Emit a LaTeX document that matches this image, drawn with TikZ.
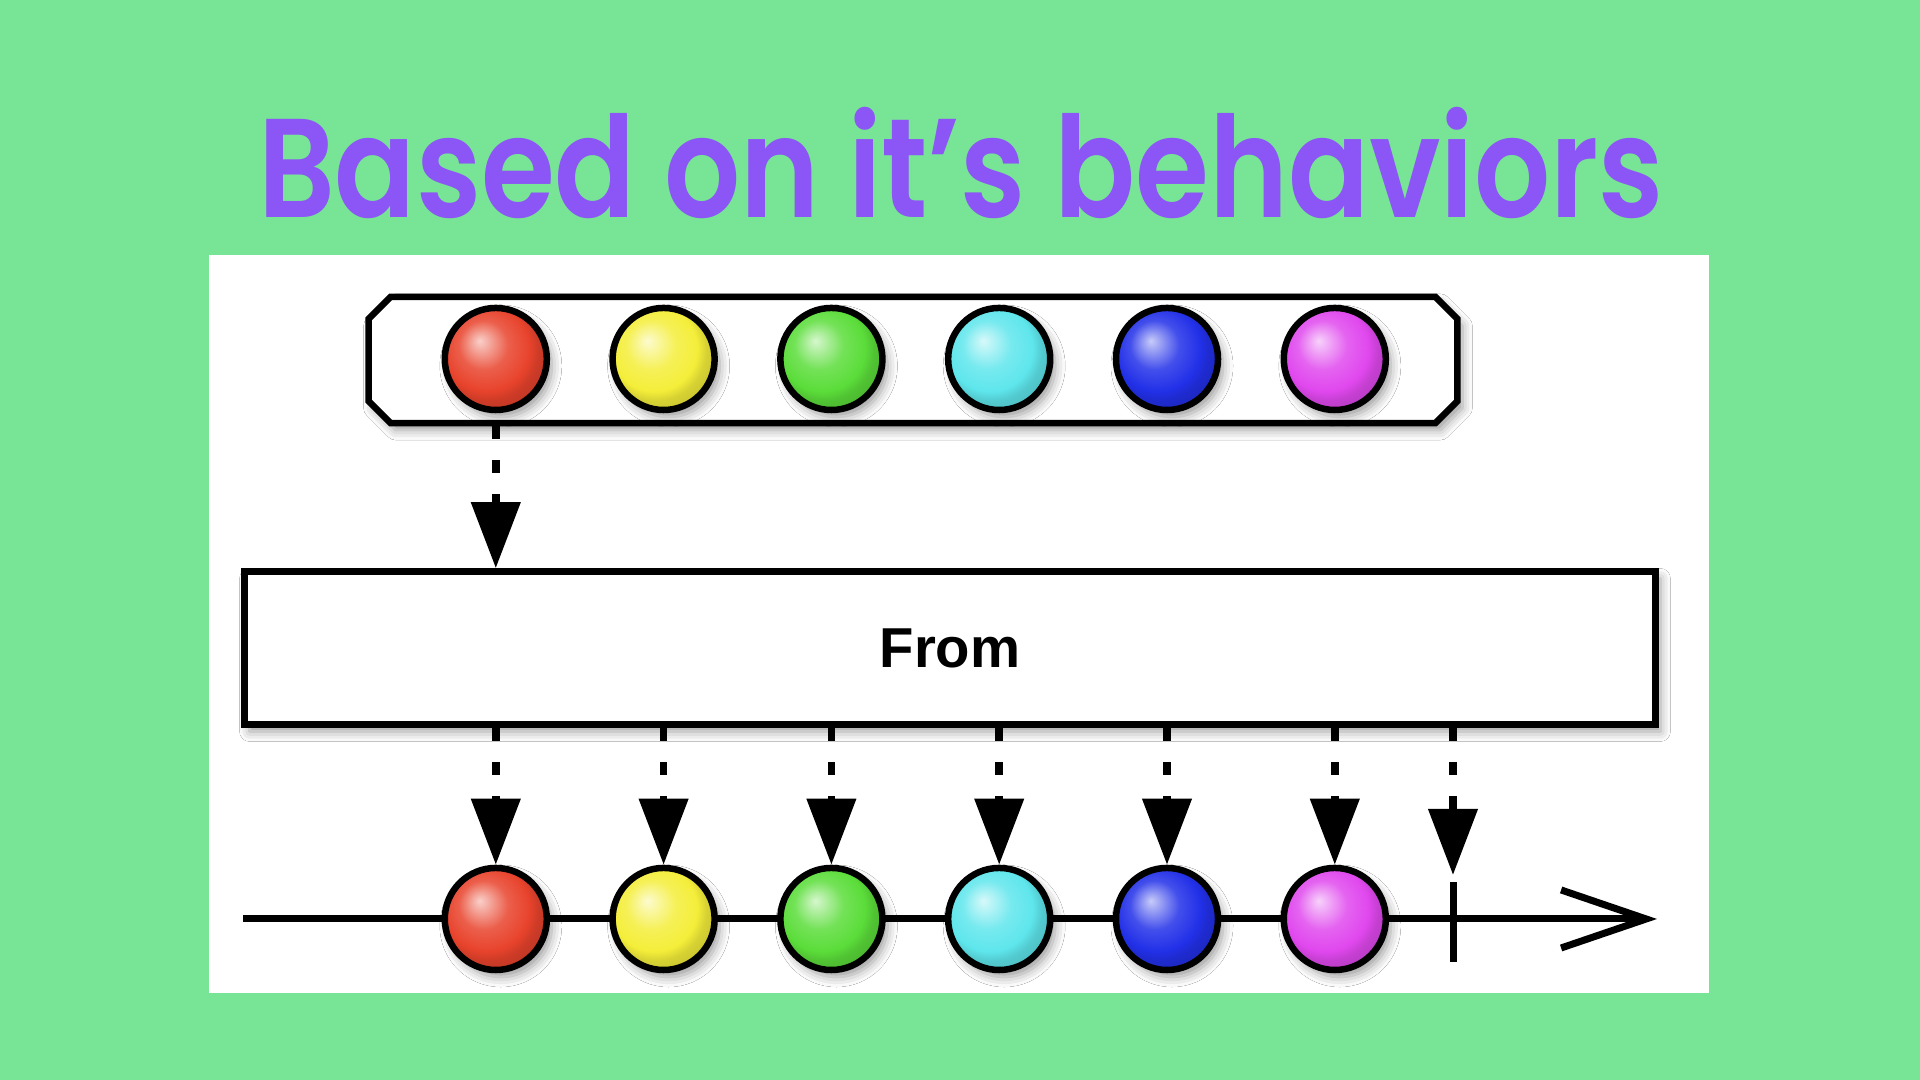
\documentclass[tikz,border=0pt]{standalone}
\usepackage{fontspec}
\usetikzlibrary{arrows.meta,shapes.misc,shadows.blur}
\newfontfamily\titlefont{Poppins}[UprightFont={* SemiBold}, FakeStretch=0.85]
\newfontfamily\opfont{Liberation Sans}
\definecolor{bggreen}{HTML}{77E595}
\definecolor{titlepurple}{HTML}{8C55F5}
\definecolor{ballred}{HTML}{E8432C}
\definecolor{ballyellow}{HTML}{F4EE3A}
\definecolor{ballgreen}{HTML}{5BDD3A}
\definecolor{ballcyan}{HTML}{5EE6EC}
\definecolor{ballblue}{HTML}{2230E8}
\definecolor{ballpink}{HTML}{E048EE}
\colorlet{ballcol}{ballred}
\pgfdeclareradialshading[ballcol]{glossy}{\pgfpoint{-8bp}{9bp}}{color(0bp)=(ballcol!25!white); color(12bp)=(ballcol!85!white); color(21bp)=(ballcol); color(25bp)=(ballcol!88!black); color(50bp)=(ballcol!60!black)}
\tikzset{
  soft/.style={blur shadow={shadow xshift=0.05cm, shadow yshift=-0.07cm, shadow blur radius=0.1cm, shadow opacity=40}},
  sphere/.style={circle, draw=black, line width=0.065cm, minimum size=1.02cm, inner sep=0pt, /utils/exec={\colorlet{ballcol}{#1}}, shading=glossy, soft},
  feed/.style={line width=0.075cm, dash pattern=on 0.13cm off 0.21cm, -{Triangle[length=0.66cm, width=0.48cm]}},
  frame/.style={draw=black, line width=0.065cm, fill=white, soft},
}
\begin{document}
\begin{tikzpicture}[x=0.01cm,y=0.01cm]
\fill[bggreen] (0,0) rectangle (1920,1080);
\fill[white] (209,87) rectangle (1709,825);
\node[anchor=base, text=titlepurple, font=\titlefont\fontsize{40pt}{40pt}\selectfont] (title) at (961,862) {Based on it’s behaviors};
\node[frame, chamfered rectangle, chamfered rectangle xsep=0.18cm, minimum width=10.88cm, minimum height=1.26cm] (src) at (913,720) {};
\node[frame, minimum width=14.1cm, minimum height=1.53cm, font=\opfont\bfseries\fontsize{16pt}{16pt}\selectfont] (op) at (950,432) {From};
\coordinate (start) at (243,161);
\coordinate (finish) at (1657,161);
\coordinate (stop) at (1453,161);
\coordinate (stoptop) at (1453,205);
\draw[line width=0.07cm, -{Straight Barb[length=0.85cm, width=0.58cm]}] (start) -- (finish);
\draw[line width=0.07cm] ([yshift=-0.43cm]stop) -- ([yshift=0.37cm]stop);
\foreach \c [count=\i] in {ballred,ballyellow,ballgreen,ballcyan,ballblue,ballpink} {
  \node[sphere=\c] (t\i) at ({328+167.8*\i},721) {};
  \node[sphere=\c] (b\i) at ({328+167.8*\i},161) {};
  \draw[feed] (op.south -| b\i.north) -- (b\i.north);
}
\draw[feed] (t1.south |- src.south) -- (t1.south |- op.north);
\draw[feed] (op.south -| stoptop) -- (stoptop);
\end{tikzpicture}
\end{document}
